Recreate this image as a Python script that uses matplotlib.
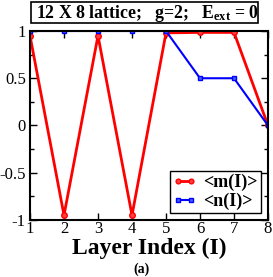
import matplotlib
matplotlib.use("Agg")
import matplotlib.pyplot as plt
from matplotlib.ticker import MultipleLocator
from matplotlib.patches import Rectangle

layers = [1, 2, 3, 4, 5, 6, 7, 8]
m_vals = [0.95, -0.95, 0.95, -0.95, 0.98, 0.985, 0.985, 0.0]
n_vals = [1.0, 1.0, 1.0, 1.0, 1.0, 0.5, 0.5, 0.0]

plt.rcParams['font.family'] = ['Liberation Serif', 'DejaVu Serif']
plt.rcParams['mathtext.fontset'] = 'custom'
plt.rcParams['mathtext.rm'] = 'Liberation Serif:bold'
plt.rcParams['mathtext.bf'] = 'Liberation Serif:bold'
plt.rcParams['mathtext.it'] = 'Liberation Serif:italic'

W, H = 273, 277
fig = plt.figure(figsize=(W/100, H/100), dpi=100)
ax = fig.add_axes([30/W, 1 - 220/H, 238/W, 189/H])

ax.plot(layers, m_vals, color='#ff0000', lw=2, marker='o', ms=4, mfc='#ff4040', mec='#ff0000', label='<m(I)>')
ax.plot(layers, n_vals, color='#0000ff', lw=1.5, marker='s', ms=3.5, mfc='#4060ff', mec='#0000ff', label='<n(I)>')

ax.set_xlim(1, 8)
ax.set_ylim(-1, 1)
ax.xaxis.set_major_locator(MultipleLocator(1))
ax.yaxis.set_minor_locator(MultipleLocator(0.25))
ax.set_yticks([-1, -0.5, 0, 0.5, 1])
ax.set_yticklabels(['-1', '-0.5', '0', '0.5', '1'])
ax.tick_params(direction='in', top=True, right=True, labelsize=12, length=5, width=1, pad=1)
ax.tick_params(axis='y', pad=3)
ax.tick_params(which='minor', direction='in', right=True, length=3, width=1)
for s in ax.spines.values():
    s.set_linewidth(1.5)

ax.set_xlabel('Layer Index (I)', fontsize=17, fontweight='bold', labelpad=0)
leg = ax.legend(loc='lower right', prop={'weight': 'bold', 'size': 13}, frameon=True, fancybox=False,
                edgecolor='black', handlelength=1.3, numpoints=2, markerscale=0.85, borderaxespad=0.4,
                borderpad=0.15, labelspacing=0.1, handletextpad=0.4, framealpha=1)
leg.get_frame().set_linewidth(1)

fig.patches.append(Rectangle((31/W, 1 - 23/H), 227/W, 21/H, transform=fig.transFigure,
                             fill=True, fc='white', ec='black', lw=1.2))
fig.text(147/W, 1 - 13/H, r'12 X 8 lattice;   g=2;   E$_{\mathbf{ext}}$ = 0', ha='center', va='center',
         fontsize=12.8, fontweight='bold')
fig.text(0.52, 1 - 269/H, '(a)', ha='center', va='center', fontsize=10, fontweight='bold')

fig.savefig('out.png', dpi=100)
